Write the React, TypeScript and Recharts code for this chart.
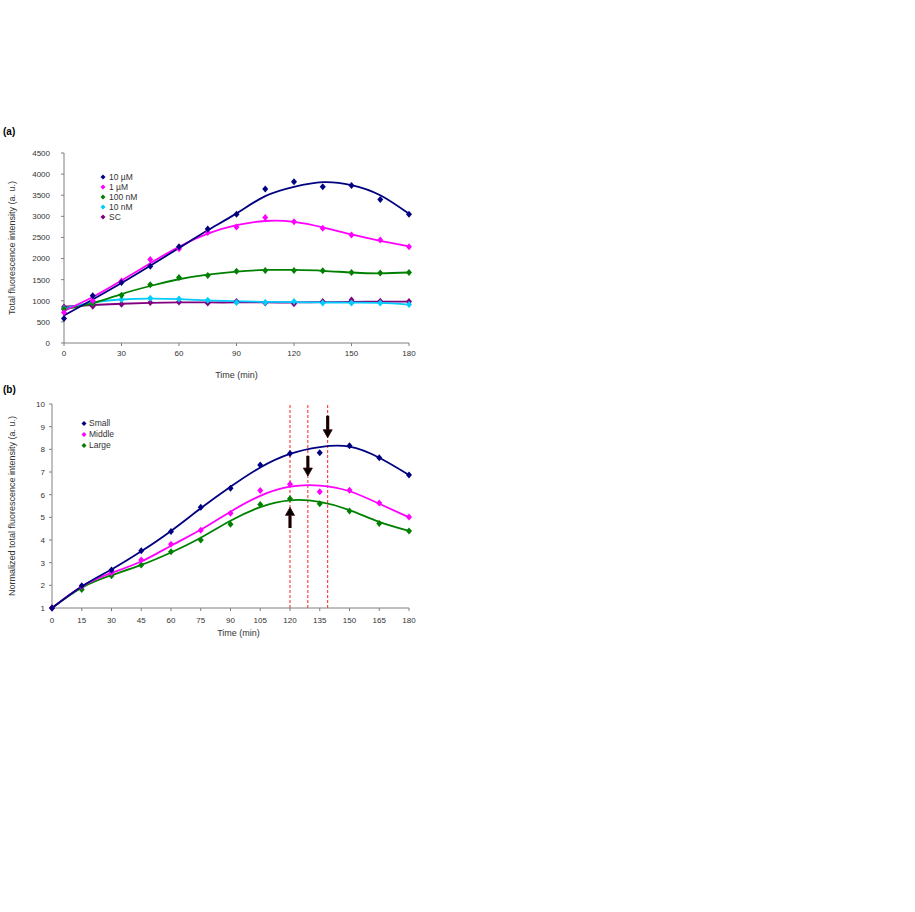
import React from 'react';
import {
  ComposedChart,
  Line,
  XAxis,
  YAxis,
  ReferenceLine,
} from 'recharts';

// ---- panel (a) ----
const timesA = [0, 15, 30, 45, 60, 75, 90, 105, 120, 135, 150, 165, 180];
const ticksA = [0, 30, 60, 90, 120, 150, 180];
const yTicksA = [0, 500, 1000, 1500, 2000, 2500, 3000, 3500, 4000, 4500];

const p10uM = [580, 1120, 1430, 1820, 2280, 2700, 3050, 3650, 3820, 3700, 3730, 3400, 3050];
const f10uM = [650, 1030, 1420, 1830, 2250, 2670, 3070, 3480, 3700, 3810, 3740, 3500, 3060];
const p1uM = [720, 1000, 1470, 1980, 2230, 2620, 2750, 2970, 2870, 2720, 2560, 2440, 2280];
const f1uM = [760, 1090, 1480, 1890, 2280, 2590, 2790, 2890, 2870, 2740, 2570, 2420, 2290];
const p100nM = [800, 950, 1130, 1380, 1550, 1600, 1700, 1720, 1720, 1710, 1670, 1660, 1670];
const f100nM = [800, 940, 1160, 1350, 1510, 1620, 1690, 1730, 1730, 1710, 1670, 1650, 1670];
const p10nM = [820, 950, 1030, 1060, 1040, 1010, 960, 960, 980, 950, 950, 950, 910];
const f10nM = [820, 960, 1030, 1050, 1040, 1010, 990, 975, 970, 960, 955, 950, 910];
const pSC = [850, 870, 920, 960, 970, 950, 980, 950, 930, 980, 1020, 990, 980];
const fSC = [860, 900, 930, 950, 960, 960, 960, 960, 960, 970, 975, 980, 980];

// ---- panel (b) ----
const timesB = [0, 15, 30, 45, 60, 75, 90, 105, 120, 135, 150, 165, 180];
const ticksB = [0, 15, 30, 45, 60, 75, 90, 105, 120, 135, 150, 165, 180];
const yTicksB = [1, 2, 3, 4, 5, 6, 7, 8, 9, 10];

const pSmall = [1, 1.98, 2.68, 3.53, 4.37, 5.44, 6.28, 7.31, 7.82, 7.85, 8.16, 7.63, 6.87];
const fSmall = [1, 1.95, 2.7, 3.5, 4.4, 5.4, 6.35, 7.2, 7.8, 8.1, 8.12, 7.63, 6.87];
const pMiddle = [1, 1.95, 2.55, 3.12, 3.81, 4.43, 5.18, 6.18, 6.46, 6.13, 6.2, 5.63, 5.01];
const fMiddle = [1, 1.95, 2.55, 3.05, 3.75, 4.45, 5.25, 5.95, 6.35, 6.4, 6.15, 5.6, 5.0];
const pLarge = [1, 1.82, 2.42, 2.9, 3.48, 4.0, 4.7, 5.57, 5.82, 5.6, 5.28, 4.73, 4.4];
const fLarge = [1, 1.9, 2.45, 2.9, 3.45, 4.1, 4.85, 5.45, 5.75, 5.68, 5.32, 4.8, 4.4];

// peak markers in (b)
const peakTimes = [120, 129, 139];
const arrowsB = [
  { x: 139, from: 9.48, to: 8.51 },
  { x: 129, from: 7.71, to: 6.82 },
  { x: 120, from: 4.53, to: 5.44 },
];

const NAVY = '#000080';
const PINK = '#ff00ff';
const GREEN = '#008000';
const CYAN = '#00ccff';
const PURPLE = '#800080';
const AXIS = '#808080';
const FONT = '"Liberation Sans", Arial, sans-serif';

const dataA = timesA.map((t, i) => ({
  t,
  p10uM: p10uM[i], f10uM: f10uM[i],
  p1uM: p1uM[i], f1uM: f1uM[i],
  p100nM: p100nM[i], f100nM: f100nM[i],
  p10nM: p10nM[i], f10nM: f10nM[i],
  pSC: pSC[i], fSC: fSC[i],
}));

const dataB = timesB.map((t, i) => ({
  t,
  pSmall: pSmall[i], fSmall: fSmall[i],
  pMiddle: pMiddle[i], fMiddle: fMiddle[i],
  pLarge: pLarge[i], fLarge: fLarge[i],
}));

const diamond = (color: string) => (props: any) => {
  const { cx, cy, index } = props;
  if (cx == null || cy == null) return <g key={`d-${index}`} />;
  return (
    <path
      key={`d-${index}`}
      d={`M${cx},${cy - 3.5}L${cx + 3},${cy}L${cx},${cy + 3.5}L${cx - 3},${cy}Z`}
      fill={color}
    />
  );
};

const arrowShape = (props: any) => {
  const { x1, y1, x2, y2 } = props;
  const dir = y2 > y1 ? 1 : -1;
  const headLen = 8;
  const baseY = y2 - dir * headLen;
  return (
    <g>
      <line x1={x1} y1={y1} x2={x2} y2={baseY} stroke="#3a0000" strokeWidth={3.2} />
      <line x1={x1} y1={y1} x2={x2} y2={baseY} stroke="#000" strokeWidth={1.6} />
      <path
        d={`M${x2 - 4.5},${baseY}L${x2 + 4.5},${baseY}L${x2},${y2}Z`}
        fill="#000"
        stroke="#3a0000"
        strokeWidth={0.8}
      />
    </g>
  );
};

const tickStyle = { fontSize: 8, fill: '#333', fontFamily: FONT };
const labelStyle = { fontSize: 9, fill: '#333', fontFamily: FONT, textAnchor: 'middle' as const };

function LegendBox({ items, left, top, gap, textDx }: { items: { name: string; color: string }[]; left: number; top: number; gap: number; textDx: number }) {
  return (
    <div style={{ position: 'absolute', left, top, fontFamily: FONT, fontSize: 8.5, color: '#333' }}>
      {items.map((it, i) => (
        <div key={it.name} style={{ position: 'absolute', top: i * gap, left: 0, whiteSpace: 'nowrap', height: gap, lineHeight: `${gap}px` }}>
          <svg width={8} height={gap} style={{ position: 'absolute', left: -3, top: 0 }}>
            <path d={`M3,${gap / 2 - 2.5}L5.5,${gap / 2}L3,${gap / 2 + 2.5}L0.5,${gap / 2}Z`} fill={it.color} />
          </svg>
          <span style={{ position: 'absolute', left: textDx }}>{it.name}</span>
        </div>
      ))}
    </div>
  );
}

function PanelA() {
  const fits: [string, string][] = [
    ['fSC', PURPLE], ['f10nM', CYAN], ['f100nM', GREEN], ['f1uM', PINK], ['f10uM', NAVY],
  ];
  const pts: [string, string][] = [
    ['pSC', PURPLE], ['p10nM', CYAN], ['p100nM', GREEN], ['p1uM', PINK], ['p10uM', NAVY],
  ];
  return (
    <div style={{ position: 'absolute', left: 0, top: 140 }}>
      <ComposedChart width={425} height={245} data={dataA} margin={{ top: 13, right: 16, left: 0, bottom: 0 }}>
        <XAxis
          dataKey="t"
          type="number"
          domain={[0, 180]}
          ticks={ticksA}
          tick={tickStyle}
          tickSize={3}
          tickMargin={4}
          height={42}
          axisLine={{ stroke: AXIS }}
          tickLine={{ stroke: AXIS }}
          label={{ value: 'Time (min)', position: 'insideBottom', offset: 7, style: labelStyle }}
        />
        <YAxis
          type="number"
          domain={[0, 4500]}
          ticks={yTicksA}
          tick={tickStyle}
          tickSize={3}
          tickMargin={11}
          width={64}
          axisLine={{ stroke: AXIS }}
          tickLine={{ stroke: AXIS }}
          label={{ value: 'Total fluorescence intensity (a. u.)', angle: -90, position: 'insideLeft', offset: 12, style: labelStyle }}
        />
        {fits.map(([k, c]) => (
          <Line key={k} type="natural" dataKey={k} stroke={c} strokeWidth={1.8} dot={false} isAnimationActive={false} legendType="none" />
        ))}
        {pts.map(([k, c]) => (
          <Line key={k} dataKey={k} stroke="none" dot={diamond(c)} activeDot={false} isAnimationActive={false} legendType="none" />
        ))}
      </ComposedChart>
    </div>
  );
}

function PanelB() {
  const fits: [string, string][] = [['fLarge', GREEN], ['fMiddle', PINK], ['fSmall', NAVY]];
  const pts: [string, string][] = [['pLarge', GREEN], ['pMiddle', PINK], ['pSmall', NAVY]];
  return (
    <div style={{ position: 'absolute', left: 0, top: 395 }}>
      <ComposedChart width={425} height={250} data={dataB} margin={{ top: 9, right: 16, left: 0, bottom: 0 }}>
        <XAxis
          dataKey="t"
          type="number"
          domain={[0, 180]}
          ticks={ticksB}
          tick={tickStyle}
          tickSize={3}
          tickMargin={6}
          height={37}
          axisLine={{ stroke: AXIS }}
          tickLine={{ stroke: AXIS }}
          label={{ value: 'Time (min)', position: 'insideBottom', offset: 9, dx: 8, style: labelStyle }}
        />
        <YAxis
          type="number"
          domain={[1, 10]}
          ticks={yTicksB}
          tick={tickStyle}
          tickSize={3}
          tickMargin={4}
          width={52}
          axisLine={{ stroke: AXIS }}
          tickLine={{ stroke: AXIS }}
          label={{ value: 'Normalized total fluorescence intensity (a. u.)', angle: -90, position: 'insideLeft', offset: 12, style: labelStyle }}
        />
        {peakTimes.map((x) => (
          <ReferenceLine key={`v${x}`} x={x} stroke="#ff2020" strokeWidth={1} strokeDasharray="3 2" />
        ))}
        {fits.map(([k, c]) => (
          <Line key={k} type="natural" dataKey={k} stroke={c} strokeWidth={1.8} dot={false} isAnimationActive={false} legendType="none" />
        ))}
        {pts.map(([k, c]) => (
          <Line key={k} dataKey={k} stroke="none" dot={diamond(c)} activeDot={false} isAnimationActive={false} legendType="none" />
        ))}
        {arrowsB.map((a) => (
          <ReferenceLine
            key={`a${a.x}`}
            segment={[{ x: a.x, y: a.from }, { x: a.x, y: a.to }]}
            shape={arrowShape}
          />
        ))}
      </ComposedChart>
    </div>
  );
}

export default function App() {
  return (
    <div style={{ position: 'absolute', left: 0, top: 0, width: 915, height: 912, background: '#fff', fontFamily: FONT }}>
      <div style={{ position: 'absolute', left: 3, top: 126, fontSize: 10, fontWeight: 'bold', color: '#000' }}>(a)</div>
      <div style={{ position: 'absolute', left: 3, top: 384, fontSize: 10, fontWeight: 'bold', color: '#000' }}>(b)</div>
      <PanelA />
      <PanelB />
      <LegendBox
        left={103}
        top={172}
        gap={10}
        textDx={6}
        items={[
          { name: '10 µM', color: NAVY },
          { name: '1 µM', color: PINK },
          { name: '100 nM', color: GREEN },
          { name: '10 nM', color: CYAN },
          { name: 'SC', color: PURPLE },
        ]}
      />
      <LegendBox
        left={84}
        top={418}
        gap={10.8}
        textDx={5}
        items={[
          { name: 'Small', color: NAVY },
          { name: 'Middle', color: PINK },
          { name: 'Large', color: GREEN },
        ]}
      />
    </div>
  );
}
